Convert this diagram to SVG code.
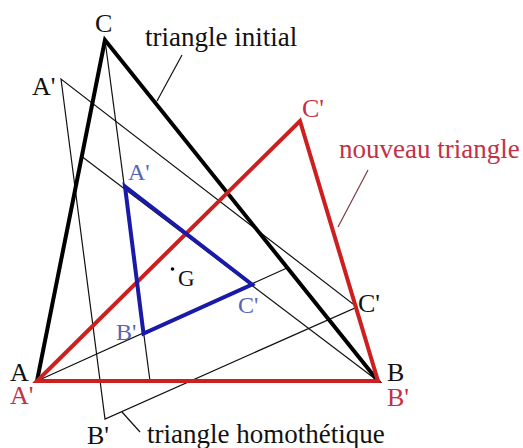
<svg xmlns="http://www.w3.org/2000/svg" width="523" height="448" viewBox="0 0 523 448">
<style>
.thin{fill:none;stroke:#111;stroke-width:1.2}
.thick{fill:none;stroke:#000;stroke-width:4;stroke-linejoin:miter;stroke-miterlimit:20}
.red{fill:none;stroke:#cc1f1f;stroke-width:4;stroke-linejoin:miter;stroke-miterlimit:20}
.blue{fill:none;stroke:#1a1aa8;stroke-width:4;stroke-linejoin:miter;stroke-miterlimit:20}
text{font-family:"Liberation Serif","Times New Roman",serif;font-size:26px}
.k{fill:#111}
.r{fill:#c43046}
.b{fill:#5565b5}
.cap{font-size:27px}
.sm{font-size:24px}
</style>
<rect width="523" height="448" fill="#fff"/>
<g id="connectors">
<line class="thin" x1="105" y1="40" x2="150" y2="381"/>
<line class="thin" x1="82.5" y1="157" x2="378" y2="381"/>
<line class="thin" x1="37" y1="381" x2="287" y2="268"/>
<line class="thin" x1="182" y1="55" x2="157" y2="101"/>
<line x1="368" y1="170" x2="338" y2="227" stroke="#7a3a44" stroke-width="1.2"/>
<line class="thin" x1="122" y1="412" x2="140" y2="432"/>
</g>
<g id="triangle-homothetique">
<polygon class="thin" points="61,79 105,419 357,307"/>
</g>
<g id="triangle-initial">
<polygon class="thick" points="105,40 37,381 378,381"/>
</g>
<g id="nouveau-triangle">
<polygon class="red" points="37,381 378,381 300,121"/>
</g>
<g id="triangle-bleu">
<polygon class="blue" points="125,186.5 143.5,333.5 252,284.5"/>
</g>
<g id="G">
<circle cx="172.5" cy="269" r="1.8" fill="#000"/>
<text class="k" x="178" y="286" style="font-size:23px">G</text>
</g>
<g id="labels">
<text class="k" x="95" y="32">C</text>
<text class="k cap" x="145" y="46">triangle initial</text>
<text class="k" x="32" y="95">A'</text>
<text class="b sm" x="128" y="180">A'</text>
<text class="r" x="302" y="117">C'</text>
<text class="r cap" x="339" y="158">nouveau triangle</text>
<text class="b sm" x="238" y="313">C'</text>
<text class="b sm" x="116" y="340">B'</text>
<text class="k" x="10" y="381">A</text>
<text class="r" x="10" y="404">A'</text>
<text class="k" x="87" y="444">B'</text>
<text class="k" x="358" y="312">C'</text>
<text class="k" x="387" y="381">B</text>
<text class="r" x="387" y="406">B'</text>
<text class="k cap" x="147" y="443">triangle homothétique</text>
</g>
</svg>
